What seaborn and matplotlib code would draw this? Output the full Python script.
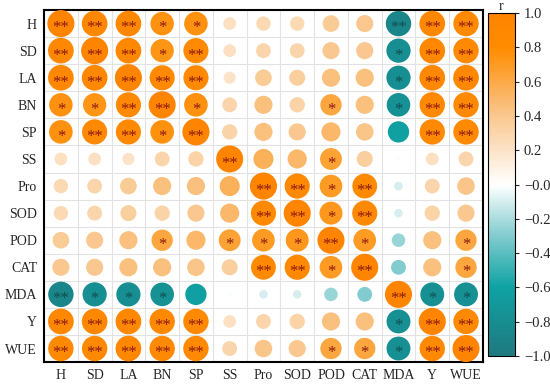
import numpy as np
import pandas as pd
import matplotlib
matplotlib.use("Agg")
import matplotlib.pyplot as plt
from matplotlib.colors import LinearSegmentedColormap, Normalize
import seaborn as sns

variables = ["H", "SD", "LA", "BN", "SP", "SS", "Pro", "SOD", "POD", "CAT", "MDA", "Y", "WUE"]

r_H   = [1.00, 0.90, 0.90, 0.75, 0.76, 0.22, 0.28, 0.28, 0.38, 0.40, -0.88, 0.90, 0.88]
r_SD  = [0.90, 1.00, 0.90, 0.74, 0.86, 0.22, 0.30, 0.30, 0.40, 0.40, -0.80, 0.90, 0.88]
r_LA  = [0.90, 0.90, 1.00, 0.86, 0.86, 0.20, 0.38, 0.35, 0.45, 0.45, -0.80, 0.90, 0.90]
r_BN  = [0.75, 0.74, 0.86, 1.00, 0.76, 0.30, 0.45, 0.32, 0.62, 0.45, -0.76, 0.88, 0.88]
r_SP  = [0.76, 0.86, 0.86, 0.76, 1.00, 0.32, 0.45, 0.40, 0.50, 0.42, -0.62, 0.88, 0.88]
r_SS  = [0.22, 0.22, 0.20, 0.30, 0.32, 1.00, 0.55, 0.50, 0.65, 0.35, -0.02, 0.22, 0.30]
r_Pro = [0.28, 0.30, 0.38, 0.45, 0.45, 0.55, 1.00, 0.86, 0.70, 0.84, -0.10, 0.30, 0.42]
r_SOD = [0.28, 0.30, 0.35, 0.32, 0.40, 0.50, 0.86, 1.00, 0.72, 0.86, -0.10, 0.32, 0.40]
r_POD = [0.38, 0.40, 0.45, 0.62, 0.50, 0.65, 0.70, 0.72, 1.00, 0.70, -0.25, 0.45, 0.62]
r_CAT = [0.40, 0.40, 0.45, 0.45, 0.42, 0.35, 0.84, 0.86, 0.70, 1.00, -0.30, 0.45, 0.62]
r_MDA = [-0.88, -0.80, -0.80, -0.76, -0.62, -0.02, -0.10, -0.10, -0.25, -0.30, 1.00, -0.78, -0.78]
r_Y   = [0.90, 0.90, 0.90, 0.88, 0.88, 0.22, 0.30, 0.32, 0.45, 0.45, -0.78, 1.00, 0.88]
r_WUE = [0.88, 0.88, 0.90, 0.88, 0.88, 0.30, 0.42, 0.40, 0.62, 0.62, -0.78, 0.88, 1.00]

sig_H   = ["**", "**", "**", "*", "*", "", "", "", "", "", "**", "**", "**"]
sig_SD  = ["**", "**", "**", "*", "**", "", "", "", "", "", "*", "**", "**"]
sig_LA  = ["**", "**", "**", "**", "**", "", "", "", "", "", "*", "**", "**"]
sig_BN  = ["*", "*", "**", "**", "*", "", "", "", "*", "", "*", "**", "**"]
sig_SP  = ["*", "**", "**", "*", "**", "", "", "", "", "", "", "**", "**"]
sig_SS  = ["", "", "", "", "", "**", "", "", "*", "", "", "", ""]
sig_Pro = ["", "", "", "", "", "", "**", "**", "*", "**", "", "", ""]
sig_SOD = ["", "", "", "", "", "", "**", "**", "*", "**", "", "", ""]
sig_POD = ["", "", "", "*", "", "*", "*", "*", "**", "*", "", "", "*"]
sig_CAT = ["", "", "", "", "", "", "**", "**", "*", "**", "", "", "*"]
sig_MDA = ["**", "*", "*", "*", "", "", "", "", "", "", "**", "*", "*"]
sig_Y   = ["**", "**", "**", "**", "**", "", "", "", "", "", "*", "**", "**"]
sig_WUE = ["**", "**", "**", "**", "**", "", "", "", "*", "*", "*", "**", "**"]

r_rows = [r_H, r_SD, r_LA, r_BN, r_SP, r_SS, r_Pro, r_SOD, r_POD, r_CAT, r_MDA, r_Y, r_WUE]
sig_rows = [sig_H, sig_SD, sig_LA, sig_BN, sig_SP, sig_SS, sig_Pro, sig_SOD, sig_POD, sig_CAT, sig_MDA, sig_Y, sig_WUE]

records = []
for i, row_name in enumerate(variables):
    for j, col_name in enumerate(variables):
        records.append({"row": row_name, "col": col_name, "r": r_rows[i][j],
                        "abs": abs(r_rows[i][j]), "sig": sig_rows[i][j]})
df = pd.DataFrame(records)

sns.set_theme(style="white")
plt.rcParams["font.family"] = ["Liberation Serif", "DejaVu Serif"]

cmap = LinearSegmentedColormap.from_list(
    "rcorr",
    [(0.0, "#1F7A80"), (0.2, "#0FA2A3"), (0.36, "#8ACFD2"), (0.5, "#FFFFFF"),
     (0.7, "#F9C890"), (0.9, "#FF8C00"), (1.0, "#FF8400")])
norm = Normalize(vmin=-1, vmax=1)

fig = plt.figure(figsize=(5.5, 3.86), dpi=100)
ax = fig.add_axes([0.080, 0.062, 0.798, 0.912])

sns.scatterplot(data=df, x="col", y="row", hue="r", size="abs",
                palette=cmap, hue_norm=norm, sizes=(0, 380), size_norm=(0, 1),
                linewidth=0, legend=False, ax=ax, zorder=3)

n = len(variables)
ax.set_xlim(-0.5, n - 0.5)
ax.set_ylim(n - 0.5, -0.5)
ax.set_xticks(range(n))
ax.set_yticks(range(n))
ax.set_xticklabels(variables, fontsize=10)
ax.set_yticklabels(variables, fontsize=10)
ax.set_xlabel("")
ax.set_ylabel("")
ax.tick_params(length=0, pad=5)
ax.set_xticks(np.arange(-0.5, n, 1), minor=True)
ax.set_yticks(np.arange(-0.5, n, 1), minor=True)
ax.grid(which="minor", color="#E2E2E2", linewidth=0.8, zorder=0)
ax.grid(which="major", visible=False)
ax.tick_params(which="minor", length=0)
for s in ax.spines.values():
    s.set_visible(True)
    s.set_color("black")
    s.set_linewidth(1.5)

for _, rec in df.iterrows():
    if rec["sig"]:
        i = variables.index(rec["row"])
        j = variables.index(rec["col"])
        c = "#0E4F52" if rec["r"] < 0 else "#8B1A10"
        ax.text(j, i + 0.18, rec["sig"], ha="center", va="center",
                fontsize=12, color=c, zorder=4)

cax = fig.add_axes([0.887, 0.078, 0.049, 0.888])
sm = plt.cm.ScalarMappable(cmap=cmap, norm=norm)
cb = fig.colorbar(sm, cax=cax)
cb.set_ticks(np.round(np.arange(-1, 1.01, 0.2), 1))
cb.ax.set_yticklabels([f"{v:.1f}".replace("-", "\u2212") for v in np.arange(-1, 1.01, 0.2)], fontsize=10.5)
cb.ax.tick_params(length=3, width=0.8, direction="out", right=True)
cb.outline.set_linewidth(0.8)
cb.outline.set_edgecolor("black")
cax.set_title("r", fontsize=10, pad=2)

fig.savefig("out.png", dpi=100)
